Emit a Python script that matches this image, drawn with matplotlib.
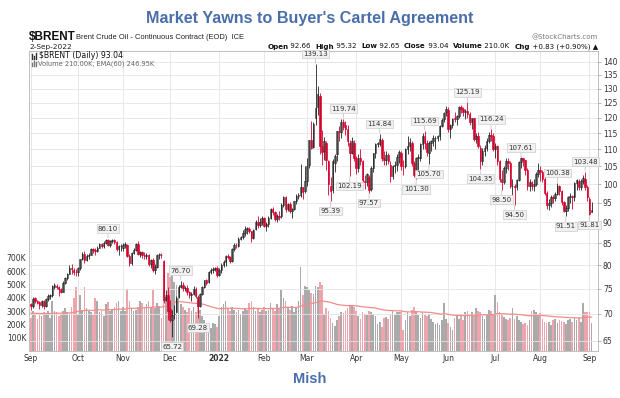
import matplotlib

matplotlib.use("Agg")

import matplotlib.pyplot as plt
import numpy as np
import pandas as pd
from matplotlib.lines import Line2D
from matplotlib.ticker import FixedLocator, FuncFormatter, NullLocator

W, H = 620, 398
BLUE = "#4a6ea9"
RED = "#d8002c"
GRID = "#e4e4e4"
NARROW = ["Liberation Sans Narrow", "Liberation Sans"]

# one bar per weekday, 1-Sep-2021 .. 2-Sep-2022
DATES = pd.bdate_range("2021-09-01", "2022-09-02")

OPEN = [
    71.9, 71.5, 73.1, 72.6, 72.3, 71.8, 72.6, 71.5, 72.9, 73.5, 73.7, 75.4, 75.6, 75.4, 74.9, 74.4, 76.2, 77.2, 78.1, 79.5, 79.0, 78.6,
    78.5, 79.3, 81.3, 82.6, 81.1, 82.0, 82.4, 83.6, 83.4, 83.2, 84.0, 84.8, 84.3, 85.1, 85.8, 84.6, 85.5, 85.7, 85.4, 83.6, 84.3,
    83.8, 84.7, 84.6, 82.0, 80.6, 82.8, 83.5, 84.8, 82.6, 82.9, 82.2, 82.1, 82.3, 80.3, 81.2, 78.9, 79.7, 82.3, 82.3, 81.0, 72.8, 73.8,
    71.0, 68.8, 69.9, 70.4, 73.3, 75.4, 75.8, 75.1, 75.2, 74.3, 73.7, 73.9, 75.0, 73.4, 71.6, 74.0, 75.3, 76.9, 76.3, 78.6, 78.9, 79.2, 79.4,
    77.8, 79.0, 80.0, 80.8, 82.0, 81.8, 80.9, 83.7, 84.6, 84.4, 86.0, 86.5, 87.5, 88.4, 88.3, 87.8, 86.3, 88.3, 90.0, 89.4, 90.0,
    91.2, 89.2, 89.5, 91.1, 93.3, 92.7, 90.8, 91.6, 91.5, 94.4, 96.4, 93.3, 94.8, 92.9, 93.5, 95.4, 96.8, 97.0, 99.1, 98.0,
    101.0, 105.5, 112.9, 110.7, 120.0, 123.5, 127.5, 111.0, 109.5, 112.0, 106.5, 99.5, 98.5, 106.0, 108.5, 115.5, 115.5, 118.5, 117.5, 116.5, 112.0, 109.0, 112.0,
    107.5, 104.5, 107.5, 106.5, 101.0, 100.6, 102.0, 98.8, 104.5, 108.8, 111.7, 111.8, 113.0, 107.3, 106.8, 108.3, 105.5, 102.3, 105.0, 105.3, 107.6,
    109.0, 105.0, 105.2, 110.1, 111.0, 112.0, 105.9, 102.5, 107.5, 107.5, 111.6, 114.0, 112.0, 109.0, 112.0, 112.6, 113.4, 113.6, 114.0, 117.4, 119.5, 122.0,
    122.5, 116.3, 117.6, 120.0, 119.5, 120.6, 123.6, 123.1, 122.0, 122.3, 121.2, 118.5, 119.8, 113.1, 114.1, 110.5, 106.5, 109.5, 110.5, 112.5, 114.6, 114.0,
    110.0, 111.0, 106.5, 101.5, 100.7, 104.6, 106.5, 106.0, 99.5, 99.6, 99.1, 101.2, 106.3, 107.3, 106.9, 103.9, 99.5, 100.5, 99.5, 100.0, 102.8,
    104.0, 103.5, 101.5, 97.5, 94.5, 95.0, 96.5, 96.3, 97.4, 99.6, 98.0, 95.1, 93.0, 93.6, 96.6, 96.7, 96.5, 100.2, 101.0, 99.3, 101.0, 101.5, 99.3,
    96.0, 92.66,
]
HIGH = [
    72.2, 73.3, 73.3, 72.8, 72.5, 72.8, 72.8, 73.1, 74.0, 74.0, 75.7, 76.2, 75.9, 75.6, 75.2, 76.6, 77.4, 78.4, 80.0, 80.2, 79.3, 79.1,
    79.6, 81.5, 82.9, 83.1, 82.5, 82.8, 84.0, 84.0, 83.9, 84.4, 85.1, 85.1, 85.6, 86.0, 86.10, 85.8, 86.0, 85.9, 85.5, 84.7, 84.8,
    85.0, 85.3, 84.9, 82.6, 83.0, 83.8, 85.0, 85.5, 83.3, 83.2, 82.9, 82.7, 82.5, 81.4, 81.7, 80.3, 82.5, 82.7, 82.7, 81.2, 74.8, 75.4,
    72.7, 70.8, 71.8, 73.6, 75.7, 76.70, 76.3, 75.6, 75.8, 74.6, 74.3, 75.6, 75.3, 73.8, 74.1, 75.6, 76.9, 77.0, 78.7, 79.3, 79.6, 79.7, 79.8,
    79.4, 80.6, 81.2, 82.4, 82.5, 82.0, 83.9, 85.0, 85.1, 86.5, 86.8, 88.1, 89.1, 89.0, 88.8, 88.0, 88.5, 90.5, 91.7, 91.0, 91.7,
    91.3, 90.0, 91.7, 93.7, 94.0, 93.0, 92.0, 93.0, 95.0, 96.8, 96.8, 95.0, 95.1, 93.7, 95.5, 97.4, 97.6, 105.8, 99.3, 105.1,
    107.5, 113.0, 118.9, 118.5, 139.13, 131.0, 128.5, 116.0, 113.9, 112.5, 106.8, 102.0, 107.2, 108.5, 115.8, 117.2, 119.5, 119.74, 119.0, 117.5, 113.0, 113.7, 113.0,
    108.0, 108.5, 110.0, 107.0, 102.5, 103.0, 102.5, 105.0, 109.0, 112.0, 112.3, 114.84, 113.6, 109.5, 109.5, 109.0, 106.5, 105.5, 106.5, 108.5, 109.8,
    109.5, 107.0, 110.5, 114.0, 113.5, 112.5, 106.5, 107.8, 108.5, 112.0, 115.0, 115.69, 113.0, 112.5, 113.0, 114.5, 114.0, 114.5, 117.5, 120.0, 122.0, 124.0,
    123.5, 118.0, 120.0, 121.9, 121.0, 124.0, 124.2, 123.5, 123.0, 125.19, 122.0, 120.0, 120.0, 115.0, 115.5, 111.5, 110.5, 111.5, 113.5, 115.5, 116.24, 115.0,
    112.0, 111.5, 107.0, 104.0, 105.0, 107.5, 107.5, 106.5, 101.5, 100.0, 101.5, 106.5, 107.61, 107.5, 107.0, 104.5, 101.5, 101.0, 101.5, 103.5, 106.0,
    105.0, 104.0, 102.0, 98.0, 96.0, 97.0, 97.0, 97.8, 100.38, 99.8, 98.5, 95.5, 94.5, 96.9, 97.5, 97.0, 100.5, 101.5, 101.5, 101.5, 102.5, 103.48, 99.8,
    96.5, 95.32,
]
LOW = [
    70.7, 71.2, 72.1, 71.9, 71.0, 71.3, 71.0, 71.4, 72.5, 72.9, 73.4, 75.0, 75.0, 73.6, 74.1, 74.3, 76.0, 76.8, 78.0, 78.1, 77.9, 77.6,
    77.6, 79.0, 81.1, 80.6, 80.9, 81.5, 82.4, 82.8, 82.4, 83.0, 83.8, 83.8, 84.0, 84.8, 84.3, 84.2, 85.0, 84.8, 83.3, 82.3, 83.3,
    83.3, 83.9, 81.8, 79.9, 80.1, 82.6, 83.1, 82.3, 81.8, 81.6, 81.3, 81.5, 79.8, 79.3, 78.5, 78.1, 79.4, 81.3, 81.7, 72.1, 72.5, 68.9,
    68.4, 65.72, 69.1, 70.3, 73.2, 75.1, 74.5, 74.6, 73.8, 73.1, 72.5, 73.7, 73.1, 69.28, 71.3, 73.7, 75.1, 75.8, 76.2, 78.2, 78.3, 78.7, 77.5,
    77.6, 78.3, 79.6, 79.9, 81.3, 80.6, 80.8, 83.2, 83.8, 84.2, 85.7, 85.9, 86.8, 87.2, 87.5, 85.4, 85.9, 88.2, 88.7, 89.0, 89.4,
    88.9, 88.0, 89.0, 90.8, 91.8, 90.3, 90.2, 90.7, 91.0, 93.8, 92.6, 93.0, 92.4, 91.0, 93.2, 94.6, 95.9, 96.6, 96.0, 97.6,
    99.5, 104.5, 110.0, 110.5, 117.5, 121.0, 108.5, 105.5, 107.0, 104.1, 97.0, 95.39, 97.5, 103.5, 106.5, 112.5, 113.5, 116.0, 114.5, 111.0, 102.19, 108.5, 106.5,
    102.8, 103.5, 105.5, 100.5, 98.7, 99.5, 97.57, 98.0, 103.5, 107.5, 110.8, 111.0, 106.5, 105.5, 105.5, 105.8, 100.5, 101.5, 103.0, 103.8, 106.0,
    104.0, 102.5, 104.5, 108.5, 109.5, 105.0, 102.0, 101.30, 103.5, 106.5, 110.0, 110.0, 108.0, 105.70, 109.5, 111.0, 110.0, 112.5, 113.0, 117.0, 118.5, 120.5,
    115.5, 113.5, 116.8, 118.5, 117.5, 120.0, 121.5, 120.5, 119.5, 120.0, 117.5, 116.5, 112.5, 112.0, 110.5, 104.35, 105.5, 108.0, 109.5, 112.0, 112.5, 109.5,
    107.5, 105.5, 100.5, 98.50, 100.0, 103.0, 104.0, 99.0, 97.0, 94.50, 98.5, 101.0, 104.5, 105.0, 102.5, 98.5, 98.0, 98.5, 98.0, 99.5, 102.0,
    101.0, 100.5, 97.0, 93.5, 93.2, 94.0, 95.0, 95.5, 97.0, 97.0, 94.5, 92.5, 91.51, 93.0, 95.0, 93.5, 95.5, 98.5, 98.5, 98.5, 100.0, 98.5, 95.5,
    91.81, 92.65,
]
CLOSE = [
    71.6, 73.0, 72.6, 72.2, 71.7, 72.6, 71.5, 72.9, 73.5, 73.6, 75.5, 75.7, 75.3, 74.9, 74.4, 76.2, 77.3, 78.1, 79.5, 79.1, 78.6, 78.5,
    79.3, 81.3, 82.6, 81.1, 82.0, 82.4, 83.7, 83.4, 83.2, 84.0, 84.9, 84.3, 85.1, 85.8, 84.6, 85.5, 85.7, 85.4, 83.6, 84.3, 84.4,
    84.7, 84.7, 82.0, 80.5, 82.7, 83.4, 84.8, 82.6, 82.9, 82.2, 82.1, 82.4, 80.3, 81.2, 78.9, 79.7, 82.3, 82.3, 82.2, 72.7, 73.4, 70.6,
    68.9, 69.7, 69.9, 73.1, 75.4, 75.8, 75.2, 75.2, 74.4, 73.7, 73.9, 75.0, 73.5, 71.5, 74.0, 75.3, 76.9, 76.1, 78.6, 78.9, 79.2, 79.3, 77.8,
    79.0, 80.0, 80.8, 82.0, 81.8, 80.9, 83.7, 84.7, 84.5, 86.1, 86.5, 87.5, 88.4, 88.4, 87.9, 86.3, 88.2, 90.0, 89.3, 90.0, 91.2,
    89.2, 89.5, 91.1, 93.3, 92.7, 90.8, 91.6, 91.4, 94.4, 96.5, 93.3, 94.8, 93.0, 93.5, 95.4, 96.8, 96.8, 99.1, 97.9, 101.0,
    105.0, 112.9, 110.5, 118.1, 123.2, 128.0, 111.1, 109.3, 112.7, 106.9, 99.9, 98.0, 106.6, 107.9, 115.6, 115.5, 118.5, 117.0, 116.5, 112.5, 109.0, 112.5, 107.5,
    104.4, 107.5, 106.6, 101.1, 100.6, 102.8, 98.5, 104.6, 108.8, 111.7, 111.7, 113.2, 107.3, 106.8, 108.3, 106.7, 102.3, 105.0, 105.3, 107.6, 109.3,
    105.2, 105.0, 110.1, 111.1, 112.4, 105.9, 102.5, 107.5, 107.5, 111.6, 114.2, 111.9, 109.1, 112.0, 112.6, 113.4, 113.6, 114.0, 117.4, 119.4, 121.7, 122.8,
    116.3, 117.6, 119.7, 119.5, 120.6, 123.6, 123.1, 122.0, 122.3, 121.2, 118.5, 119.8, 113.1, 114.1, 111.0, 106.5, 109.5, 110.5, 112.5, 114.6, 114.0, 110.0,
    111.0, 106.5, 101.5, 100.7, 104.6, 106.5, 106.0, 99.5, 99.6, 99.1, 101.2, 106.3, 107.3, 106.9, 103.9, 99.5, 100.5, 99.5, 100.0, 102.8, 104.0,
    103.5, 101.5, 97.5, 94.5, 95.0, 96.5, 96.3, 97.4, 99.6, 98.2, 95.1, 93.0, 93.6, 96.6, 96.7, 96.5, 100.2, 101.2, 99.3, 101.0, 101.8, 99.3, 96.5,
    92.21, 93.04,
]
# volume in thousands
VOLUME = [
    250, 300, 280, 240, 270, 260, 290, 280, 300, 250, 380, 300, 290, 260, 280, 300, 320, 290, 280, 330, 400, 480,
    280, 420, 310, 480, 320, 300, 290, 270, 400, 380, 290, 300, 260, 350, 370, 300, 310, 330, 360, 380, 300,
    330, 300, 470, 380, 320, 300, 310, 330, 380, 360, 330, 350, 380, 330, 460, 320, 360, 340, 250, 480, 420, 590,
    560, 600, 520, 500, 400, 350, 330, 310, 290, 320, 300, 330, 290, 380, 310, 260, 230, 180, 200, 170, 210, 200, 180,
    260, 330, 350, 380, 320, 300, 330, 310, 290, 310, 280, 300, 320, 310, 360, 380, 330, 300, 320, 290, 310,
    330, 300, 310, 360, 320, 300, 350, 320, 460, 400, 380, 330, 310, 340, 290, 320, 380, 630, 420, 490,
    480, 460, 440, 430, 490, 480, 520, 500, 280, 320, 300, 250, 210, 190, 230, 260, 290, 285, 300, 320, 345, 340, 330,
    300, 260, 240, 290, 280, 270, 300, 290, 275, 260, 200, 220, 180, 250, 255, 240, 280, 300, 270, 290, 290,
    295, 160, 235, 290, 260, 310, 330, 300, 270, 250, 290, 270, 260, 280, 240, 220, 200, 210, 195, 230, 360, 240,
    210, 180, 160, 250, 270, 240, 260, 232, 290, 300, 270, 290, 275, 322, 300, 292, 260, 240, 280, 307, 300, 270,
    422, 370, 290, 270, 255, 240, 230, 250, 322, 240, 260, 232, 220, 200, 210, 195, 230, 300, 307, 292, 260,
    285, 240, 220, 210, 217, 195, 230, 240, 210, 230, 225, 215, 205, 230, 240, 215, 250, 230, 245, 220, 360, 295, 290,
    295, 210,
]
EMA_START = 285

HIGH_MARKS = [36, 70, 133, 146, 163, 184, 204, 215, 229, 246, 259]
LOW_MARKS = [66, 78, 140, 149, 158, 180, 186, 210, 220, 226, 250, 261]

MONTH_LABELS = ["Sep", "Oct", "Nov", "Dec", "2022", "Feb", "Mar", "Apr", "May", "Jun", "Jul", "Aug", "Sep"]
PRICE_TICKS = list(range(65, 145, 5))
VOLUME_TICKS = [100, 200, 300, 400, 500, 600, 700]


def fxy(x, y):
    # pixel position -> figure fraction
    return x / W, 1 - y / H


def icon(fig, x0, y0, heights, color):
    for k, hgt in enumerate(heights):
        xa, ya = fxy(x0 + k * 2, y0)
        _, yb = fxy(0, y0 - hgt)
        fig.add_artist(Line2D([xa, xa], [ya, yb], transform=fig.transFigure, color=color, lw=1.0))


def main() -> None:
    o = np.array(OPEN)
    h = np.array(HIGH)
    l = np.array(LOW)
    c = np.array(CLOSE)
    v = np.array(VOLUME, dtype=float)
    x = np.arange(len(c))
    prev = np.r_[o[0], c[:-1]]
    up = c >= prev
    line_col = np.where(up, "#222222", RED)
    face_col = np.where(c >= o, "white", line_col)
    ema = pd.Series([EMA_START] + VOLUME, dtype=float).ewm(span=60, adjust=False).mean().to_numpy()[1:]

    month_idx = [0] + [i for i in range(1, len(DATES)) if DATES[i].month != DATES[i - 1].month]

    fig = plt.figure(figsize=(W / 100, H / 100), dpi=100)
    rect = [29 / W, 1 - 351 / H, (598 - 29) / W, 300 / H]
    axv = fig.add_axes(rect)
    ax = fig.add_axes(rect, sharex=axv)
    ax.patch.set_visible(False)

    # price scale (log, right side)
    ax.set_yscale("log")
    ax.set_ylim(63.2, 144.2)
    ax.set_xlim(-0.9, 265)
    ax.yaxis.tick_right()
    ax.yaxis.set_major_locator(FixedLocator(PRICE_TICKS))
    ax.yaxis.set_major_formatter(FuncFormatter(lambda val, _: f"{val:.0f}"))
    ax.yaxis.set_minor_locator(NullLocator())
    ax.tick_params(axis="y", length=2, width=0.5, color="#999999", labelsize=5.5, pad=1.5, labelcolor="#333333")
    ax.tick_params(axis="x", labelbottom=False, length=0)
    for s in ax.spines.values():
        s.set_visible(False)

    # volume scale (left side)
    axv.set_ylim(0, 2258)
    axv.set_yticks(VOLUME_TICKS)
    axv.set_yticklabels([f"{t}K" for t in VOLUME_TICKS])
    axv.tick_params(axis="y", length=0, labelsize=5.5, pad=2, labelcolor="#333333")
    axv.set_xticks(month_idx)
    axv.set_xticklabels(MONTH_LABELS)
    axv.tick_params(axis="x", length=0, labelsize=5.5, pad=2.5, labelcolor="#333333")
    axv.get_xticklabels()[4].set_fontweight("bold")
    for s in axv.spines.values():
        s.set_color("#b5b5b5")
        s.set_linewidth(0.6)

    # grid drawn on the bottom axes so it sits behind everything
    axv.grid(axis="x", color=GRID, lw=0.6)
    axv.hlines(PRICE_TICKS, 0, 1, transform=ax.get_yaxis_transform(), color=GRID, lw=0.6)
    axv.set_axisbelow(True)

    vol_col = np.where(up, "#aaaaaa", "#eda4ad")
    axv.bar(x, v, width=0.78, color=vol_col, linewidth=0)
    axv.plot(x, ema, color="#f18c8c", lw=0.9)

    # candles
    ax.vlines(x, l, h, colors=line_col, lw=0.6)
    body = np.maximum(np.abs(c - o), 0.12)
    ax.bar(x, body, bottom=np.minimum(o, c), width=0.7, color=face_col, edgecolor=line_col, linewidth=0.45)

    box = dict(boxstyle="square,pad=0.18", fc="#f1f1f1", ec="#cccccc", lw=0.5)
    arrow = dict(arrowstyle="-", color="#bbbbbb", lw=0.5, shrinkA=0, shrinkB=0.5)
    for i in HIGH_MARKS:
        ax.annotate(f"{h[i]:.2f}", xy=(i, h[i]), xytext=(0, 5), textcoords="offset points",
                    ha="center", va="bottom", fontsize=5, color="#333333", bbox=box, arrowprops=arrow)
    for i in LOW_MARKS:
        ax.annotate(f"{l[i]:.2f}", xy=(i, l[i]), xytext=(0, -5), textcoords="offset points",
                    ha="center", va="top", fontsize=5, color="#333333", bbox=box, arrowprops=arrow)

    # header
    fig.text(*fxy(310, 18), "Market Yawns to Buyer's Cartel Agreement", ha="center", va="center",
             fontsize=11.6, fontweight="bold", color=BLUE, family="Liberation Sans")
    fig.text(*fxy(310, 379), "Mish", ha="center", va="center",
             fontsize=10.5, fontweight="bold", color=BLUE, family="Liberation Sans")
    fig.text(*fxy(29, 37.5), "$BRENT", ha="left", va="center", fontsize=8.5, fontweight="bold",
             color="#111111", family=NARROW)
    fig.text(*fxy(76, 37.5), "Brent Crude Oil - Continuous Contract (EOD)  ICE", ha="left", va="center",
             fontsize=5.4, color="#222222", family=NARROW)
    fig.text(*fxy(29, 46.5), DATES[-1].strftime("%-d-%b-%Y"), ha="left", va="center", fontsize=5.3, color="#222222")
    fig.text(*fxy(598, 37), "@StockCharts.com", ha="right", va="center", fontsize=5, color="#777777")

    chg = c[-1] - c[-2]
    segs = [
        ("Open", True), (f" {o[-1]:.2f}  ", False),
        ("High", True), (f" {h[-1]:.2f}  ", False),
        ("Low", True), (f" {l[-1]:.2f}  ", False),
        ("Close", True), (f" {c[-1]:.2f}  ", False),
        ("Volume", True), (f" {v[-1]:.1f}K  ", False),
        ("Chg", True), (f" {chg:+.2f} ({chg / c[-2] * 100:+.2f}%) \u25b2", False),
    ]
    renderer = fig.canvas.get_renderer()
    xr = 598
    for txt, bold in reversed(segs):
        t = fig.text(*fxy(xr, 46.5), txt, ha="right", va="center", fontsize=5.1,
                     fontweight="bold" if bold else "normal", color="#111111")
        xr -= t.get_window_extent(renderer).width

    # legend inside the plot
    icon(fig, 32, 58.5, [5, 3, 6], "#333333")
    fig.text(*fxy(39, 55.5), f"$BRENT (Daily) {c[-1]:.2f}", ha="left", va="center", fontsize=5.6, color="#111111")
    icon(fig, 32, 66, [3, 5, 4], "#777777")
    fig.text(*fxy(38, 63.5), "Volume 210.00K, EMA(60) 246.95K", ha="left", va="center", fontsize=4.8, color="#666666")

    fig.savefig("out.png", dpi=100)
    plt.close(fig)


if __name__ == "__main__":
    main()
